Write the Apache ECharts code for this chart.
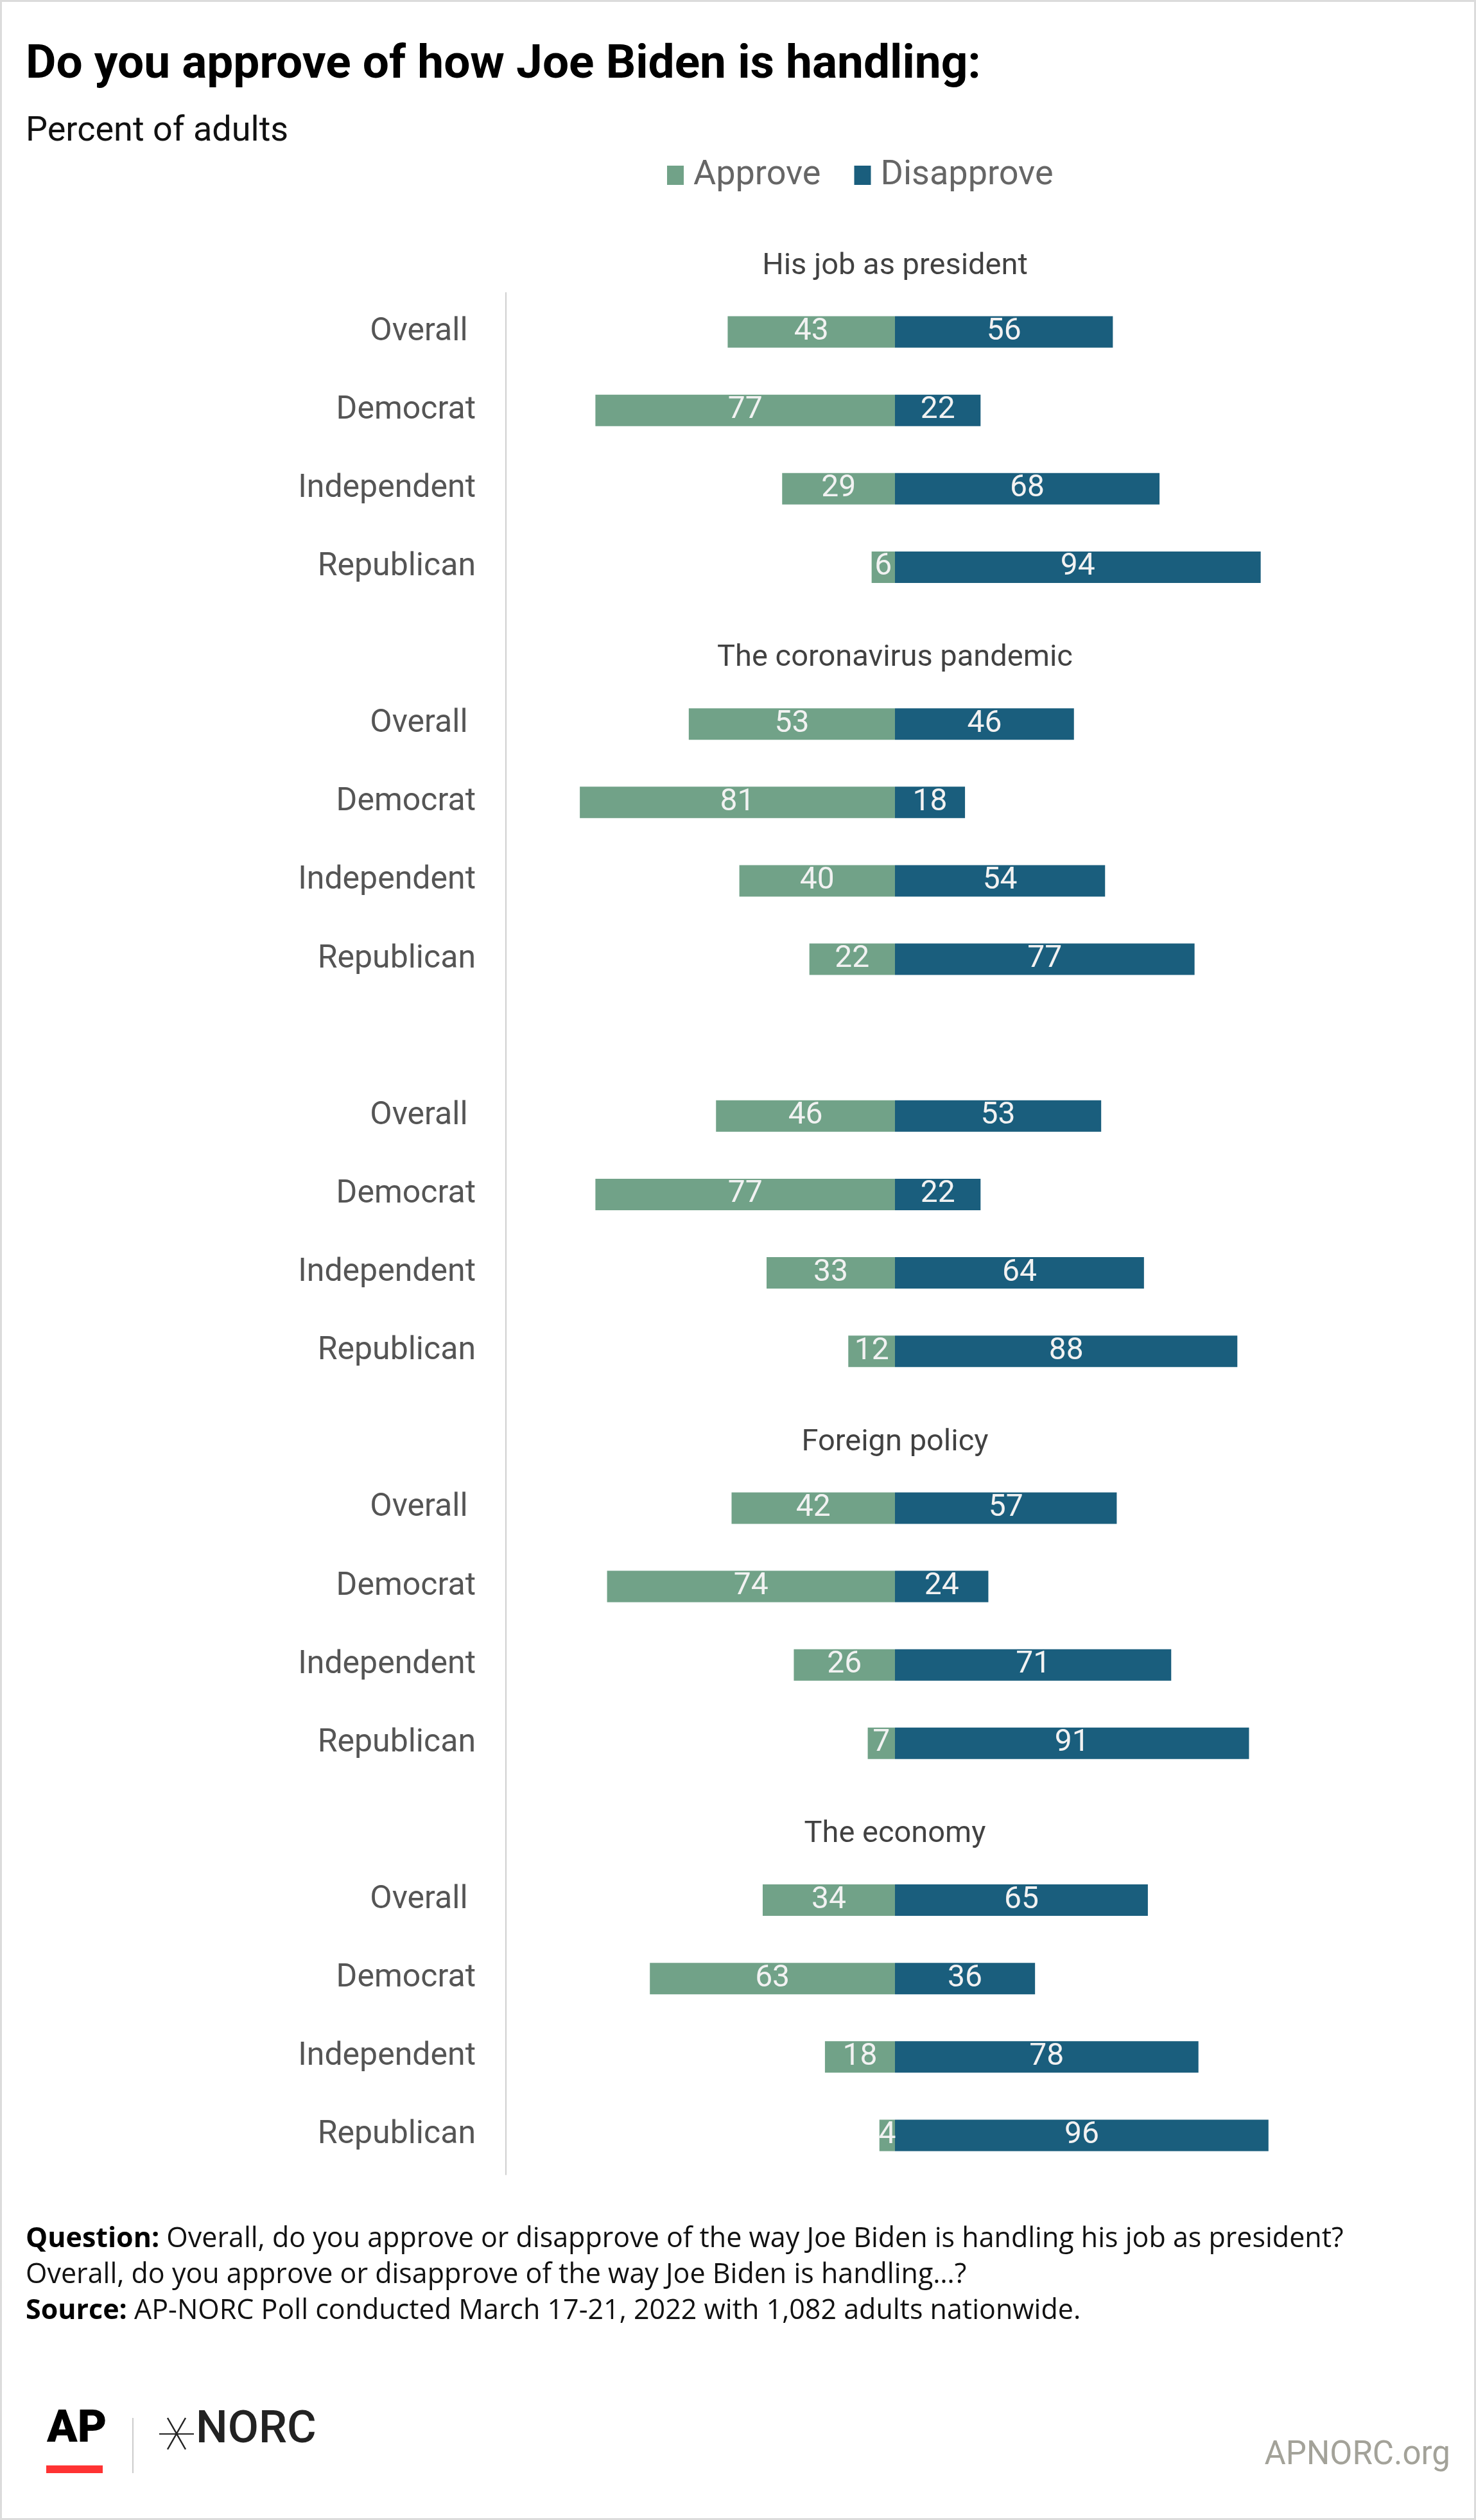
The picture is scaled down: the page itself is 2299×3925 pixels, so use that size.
<!DOCTYPE html>
<html>
<head>
<meta charset="utf-8">
<script src="https://cdn.jsdelivr.net/npm/echarts@6/dist/echarts.min.js"></script>
<style>
  html, body { margin: 0; padding: 0; background: #fff; }
  #chart { width: 2299px; height: 3925px; box-sizing: border-box; border: 3px solid #dcdcdc; }
</style>
</head>
<body>
<div id="chart"></div>
<script>
// ---- Data ----
const sections = ['His job as president', 'The coronavirus pandemic', '', 'Foreign policy', 'The economy'];
const groups = ['Overall ', 'Democrat', 'Independent', 'Republican'];
const approveJob = [43, 77, 29, 6];
const disapproveJob = [56, 22, 68, 94];
const approveCovid = [53, 81, 40, 22];
const disapproveCovid = [46, 18, 54, 77];
const approveThird = [46, 77, 33, 12];
const disapproveThird = [53, 22, 64, 88];
const approveForeign = [42, 74, 26, 7];
const disapproveForeign = [57, 24, 71, 91];
const approveEconomy = [34, 63, 18, 4];
const disapproveEconomy = [65, 36, 78, 96];
const seriesNames = ['Approve', 'Disapprove'];

const approveAll = [approveJob, approveCovid, approveThird, approveForeign, approveEconomy];
const disapproveAll = [disapproveJob, disapproveCovid, disapproveThird, disapproveForeign, disapproveEconomy];

// ---- Build rows (title slot between sections) ----
const rowLabels = [];
const approveData = [];
const disapproveData = [];
const titleData = [];
sections.forEach((sec, s) => {
  if (s > 0) { rowLabels.push(''); approveData.push('-'); disapproveData.push('-'); }
  groups.forEach((g, i) => {
    const idx = rowLabels.length;
    if (i === 0 && sec) titleData.push({ value: [0, idx], name: sec });
    rowLabels.push(g);
    approveData.push(-approveAll[s][i]);
    disapproveData.push(disapproveAll[s][i]);
  });
});
const rowKeys = rowLabels.map((_, i) => String(i));

const GREEN = '#71a288';
const BLUE = '#1a5e7d';
const FONT = 'Roboto';

const chart = echarts.init(document.getElementById('chart'), null, { renderer: 'canvas' });
const valueLabel = {
  show: true, position: 'inside', color: '#f2f2f2', fontSize: 48, fontFamily: FONT,
  formatter: p => Math.abs(p.value)
};
chart.setOption({
  animation: false,
  backgroundColor: '#ffffff',
  textStyle: { fontFamily: FONT },
  title: [
    { text: 'Do you approve of how Joe Biden is handling:', left: 32, top: 58,
      textStyle: { fontFamily: FONT, fontSize: 73, fontWeight: 'bold', color: '#000' } },
    { text: 'Percent of adults', left: 32, top: 170,
      textStyle: { fontFamily: FONT, fontSize: 54, fontWeight: 'normal', color: '#111' } },
    { text: 'APNORC.org', right: 32, top: 3792,
      textStyle: { fontFamily: FONT, fontSize: 51, fontWeight: 'normal', color: '#a3a299' } }
  ],
  legend: {
    data: seriesNames, left: 1031, top: 238, icon: 'rect', itemWidth: 26, itemHeight: 30, itemGap: 52,
    textStyle: { fontFamily: FONT, fontSize: 54, color: '#666', padding: [0, 0, 0, 10] }
  },
  grid: { left: 785, top: 453, width: 1212, height: 2931, containLabel: false },
  xAxis: { type: 'value', min: -100, max: 100, show: false, splitLine: { show: false } },
  yAxis: {
    type: 'category', data: rowKeys, inverse: true,
    axisLine: { show: true, onZero: false, lineStyle: { color: '#d0d0d0', width: 2 } },
    axisTick: { show: false },
    axisLabel: { margin: 47, fontSize: 50, color: '#555', fontFamily: FONT,
      formatter: v => rowLabels[Number(v)] }
  },
  series: [
    { name: seriesNames[0], type: 'bar', stack: 'total', data: approveData, barWidth: 49,
      itemStyle: { color: GREEN }, label: valueLabel },
    { name: seriesNames[1], type: 'bar', stack: 'total', data: disapproveData, barWidth: 49,
      itemStyle: { color: BLUE }, label: valueLabel },
    { name: 'sectionTitles', type: 'scatter', data: titleData, symbolSize: 0, silent: true,
      label: { show: true, position: 'inside', offset: [0, -102], formatter: p => p.name,
        fontFamily: FONT, fontSize: 47, color: '#111' } }
  ],
  graphic: [
    { type: 'text', left: 37, top: 3457,
      style: {
        text: '{b|Question:} Overall, do you approve or disapprove of the way Joe Biden is handling his job as president?\nOverall, do you approve or disapprove of the way Joe Biden is handling…?\n{b|Source:} AP-NORC Poll conducted March 17-21, 2022 with 1,082 adults nationwide.',
        font: '43px "Open Sans"', fill: '#111', lineHeight: 56,
        rich: { b: { fontFamily: 'Open Sans', fontSize: 43, fontWeight: 'bold', fill: '#000', lineHeight: 56 } }
      } },
    { type: 'text', left: 70, top: 3747,
      style: { text: 'AP', font: '900 70px Roboto', fill: '#000' } },
    { type: 'rect', shape: { x: 69, y: 3837, width: 88, height: 12 }, style: { fill: '#ff3333' } },
    { type: 'rect', shape: { x: 203, y: 3763, width: 2, height: 86 }, style: { fill: '#cccccc' } },
    { type: 'line', shape: { x1: 258, y1: 3763, x2: 286, y2: 3812 }, style: { stroke: '#222', lineWidth: 2.5 } },
    { type: 'line', shape: { x1: 286, y1: 3763, x2: 258, y2: 3812 }, style: { stroke: '#222', lineWidth: 2.5 } },
    { type: 'line', shape: { x1: 245, y1: 3788, x2: 299, y2: 3788 }, style: { stroke: '#222', lineWidth: 2 } },
    { type: 'text', left: 302, top: 3748,
      style: { text: 'NORC', font: '500 70px Roboto', fill: '#222' } }
  ]
});
</script>
</body>
</html>
